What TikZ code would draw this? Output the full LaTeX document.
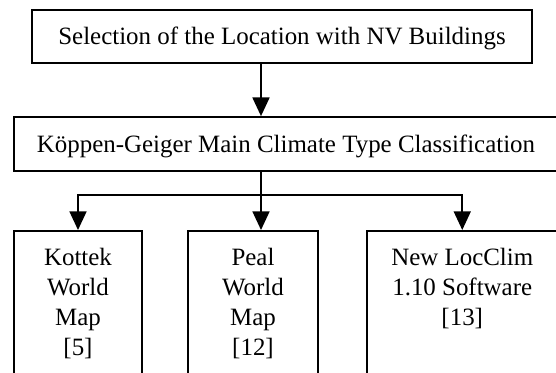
\documentclass[tikz,border=0pt]{standalone}
\usepackage{fontspec}
\setmainfont{Liberation Serif}
\usetikzlibrary{arrows.meta}

\begin{document}
\begin{tikzpicture}[x=0.75pt,y=0.75pt,yscale=-1,
    line width=1.3pt,
    stage/.style={draw, inner sep=0pt, text height=12.4pt, text depth=0pt,
        font=\fontsize{18.7}{22.5}\selectfont},
    source/.style={draw, anchor=north, inner sep=0pt, text height=26.25pt,
        text depth=140pt, font=\fontsize{18.7}{22.5}\selectfont},
    flow/.style={-{Triangle[width=12.75pt,length=14pt]}}]
    %page frame, lower boxes run past it
    \useasboundingbox (0,0) rectangle (556,372);

    %Upper boxes
    \node[stage, minimum width=375pt, minimum height=39.75pt] (select) at (282,36.5) {Selection of the Location with NV Buildings};
    \node[stage, minimum width=408pt, minimum height=40.5pt] (koppen) at (286,144) {Köppen-Geiger Main Climate Type Classification};

    %Lower boxes
    \node[source, minimum width=96pt] (kottek) at (78,230) {\begin{tabular}[t]{@{}c@{}}Kottek\\World\\Map\\ {[5]}\end{tabular}};
    \node[source, minimum width=97.5pt] (peal) at (253,230) {\begin{tabular}[t]{@{}c@{}}Peal\\World\\Map\\ {[12]}\end{tabular}};
    \node[source, minimum width=142.9pt] (locclim) at (462.25,230) {\begin{tabular}[t]{@{}c@{}}New LocClim\\1.10 Software\\ {[13]}\end{tabular}};

    %Connectors
    \coordinate (fork) at (261,195);
    \draw[flow] (select.south -| fork) -- (koppen.north -| fork);
    \draw (koppen.south -| fork) -- (fork);
    \draw[flow] (fork) -| (kottek.north);
    \draw[flow] (fork) -- (peal.north -| fork);
    \draw[flow] (fork) -| (locclim.north);

\end{tikzpicture}
\end{document}
